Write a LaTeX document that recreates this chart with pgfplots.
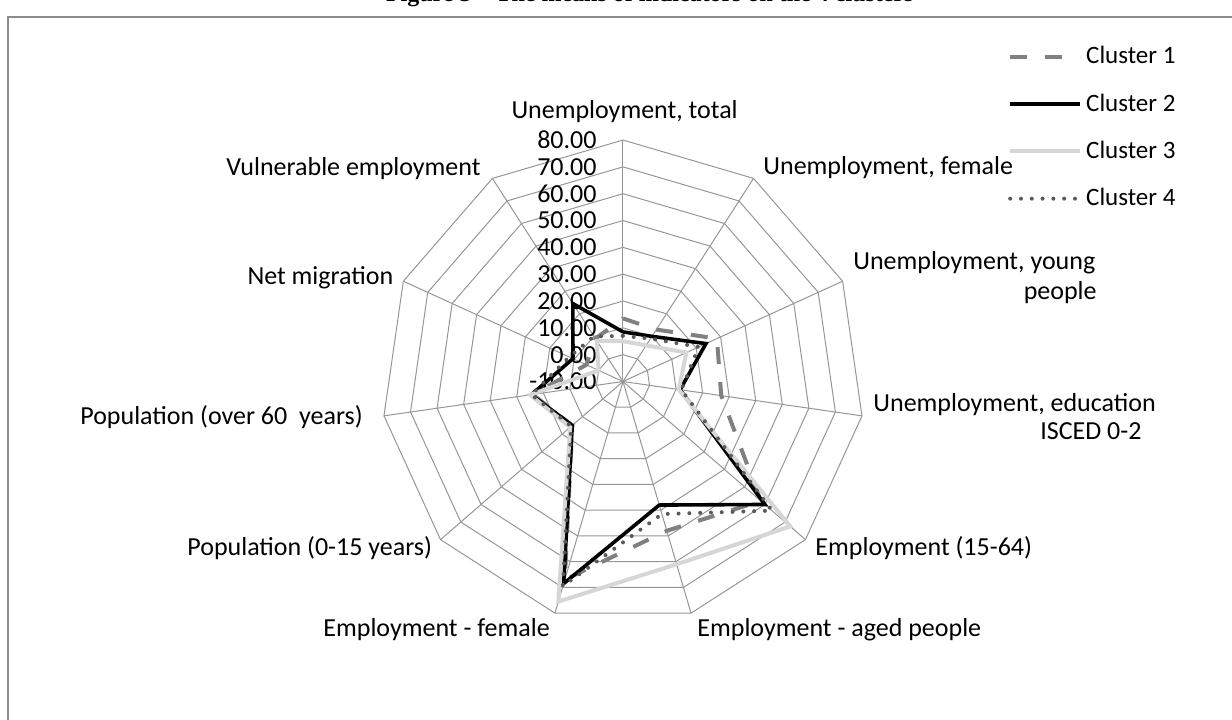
\documentclass[border=0pt]{standalone}
\usepackage{pgfplots}
\pgfplotsset{compat=1.18}
\usepackage{pgfplotstable}
\usepackage{fontspec}
\setmainfont{Carlito}
\newfontfamily\titlefont{Liberation Serif}

\definecolor{gridc}{RGB}{150,150,150}
\definecolor{cone}{RGB}{128,128,128}
\definecolor{cthree}{RGB}{214,214,214}
\definecolor{cfour}{RGB}{89,89,89}
\definecolor{framec}{RGB}{140,140,140}

% spoke k = 0..10 clockwise from the top, row 11 closes the polygon
\pgfplotstableread{
k  c1   c2   c3   c4
0  13.5 8.5  5.0  7.0
1  13.0 10.0 6.0  9.0
2  28.5 24.0 16.0 21.0
3  27.0 11.5 11.0 12.0
4  58.0 60.0 72.5 63.5
5  48.0 38.0 61.0 41.5
6  67.0 68.5 75.5 69.5
7  15.0 15.0 16.0 15.5
8  24.0 24.5 25.0 24.5
9  5.0  10.5 0.0  12.0
10 9.0  24.5 8.0  10.0
11 13.5 8.5  5.0  7.0
}\clusters

\begin{document}
\begin{tikzpicture}[font=\fontsize{13}{15.6}\selectfont]
\begin{axis}[
    at={(0,0)}, anchor=south west, name=ax,
    width=616pt, height=359.5pt, scale only axis,
    xmin=-232.2, xmax=227.0, ymin=-125.8, ymax=142.2,
    hide axis, clip=false,
    legend cell align=left,
    legend image code/.code={\draw[#1] (0pt,0pt) -- (35pt,0pt);},
    legend style={at={(0.818,0.936)}, anchor=north west, draw=none, fill=none,
        inner sep=0pt, row sep=13.5pt, font=\fontsize{12.5}{15}\selectfont,
        nodes={inner sep=0pt, inner xsep=2pt}},
]
% polygon rings (values 0..80 -> radius 10..90) and spokes
\pgfplotsinvokeforeach{10,20,...,90}{
  \addplot[gridc, line width=0.5pt, data cs=polar, forget plot]
    table[x expr={90-\thisrow{k}*360/11}, y expr=#1] {\clusters};
}
\pgfplotsinvokeforeach{0,...,10}{
  \addplot[gridc, line width=0.5pt, data cs=polar, forget plot]
    table[x expr={90-#1*360/11}, y=r, row sep=\\] {r\\0\\90\\};
}

% radial tick labels
\node[anchor=east, inner sep=0pt] at (axis cs:-9.7,90) {80.00};
\node[anchor=east, inner sep=0pt] at (axis cs:-9.7,80) {70.00};
\node[anchor=east, inner sep=0pt] at (axis cs:-9.7,70) {60.00};
\node[anchor=east, inner sep=0pt] at (axis cs:-9.7,60) {50.00};
\node[anchor=east, inner sep=0pt] at (axis cs:-9.7,50) {40.00};
\node[anchor=east, inner sep=0pt] at (axis cs:-9.7,40) {30.00};
\node[anchor=east, inner sep=0pt] at (axis cs:-9.7,30) {20.00};
\node[anchor=east, inner sep=0pt] at (axis cs:-9.7,20) {10.00};
\node[anchor=east, inner sep=0pt] at (axis cs:-9.7,10) {0.00};
\node[anchor=east, inner sep=0pt] at (axis cs:-9.7,0) {-10.00};

% category labels
\node[anchor=base west, inner sep=0pt] at (axis cs:-41.7,98.2) {Unemployment, total};
\node[anchor=base west, inner sep=0pt] at (axis cs:52.2,77.0) {Unemployment, female};
\node[anchor=base west, inner sep=0pt] at (axis cs:85.7,41.6) {Unemployment, young};
\node[anchor=base east, inner sep=0pt] at (axis cs:176.7,30.4) {people};
\node[anchor=base west, inner sep=0pt] at (axis cs:93.2,-11.0) {Unemployment, education};
\node[anchor=base west, inner sep=0pt] at (axis cs:155.4,-21.8) {ISCED 0-2};
\node[anchor=base west, inner sep=0pt] at (axis cs:71.6,-65.0) {Employment (15-64)};
\node[anchor=base west, inner sep=0pt] at (axis cs:27.6,-94.9) {Employment - aged people};
\node[anchor=base west, inner sep=0pt] at (axis cs:-111.8,-94.9) {Employment - female};
\node[anchor=base west, inner sep=0pt] at (axis cs:-162.5,-65.0) {Population (0-15 years)};
\node[anchor=base west, inner sep=0pt] at (axis cs:-202.4,-16.2) {Population (over 60\ \ years)};
\node[anchor=base west, inner sep=0pt] at (axis cs:-140.1,36.0) {Net migration};
\node[anchor=base west, inner sep=0pt] at (axis cs:-148.0,76.6) {Vulnerable employment};

% series
\addplot[cone, line width=2pt, dash pattern=on 8.5pt off 9pt, data cs=polar]
  table[x expr={90-\thisrow{k}*360/11}, y expr={\thisrow{c1}+10}] {\clusters};
\addlegendentry{Cluster 1}
\addplot[black, line width=1.8pt, data cs=polar]
  table[x expr={90-\thisrow{k}*360/11}, y expr={\thisrow{c2}+10}] {\clusters};
\addlegendentry{Cluster 2}
\addplot[cthree, line width=2pt, data cs=polar]
  table[x expr={90-\thisrow{k}*360/11}, y expr={\thisrow{c3}+10}] {\clusters};
\addlegendentry{Cluster 3}
\addplot[cfour, line width=2pt, line cap=round, dash pattern=on 0pt off 5.4pt, data cs=polar]
  table[x expr={90-\thisrow{k}*360/11}, y expr={\thisrow{c4}+10}] {\clusters};
\addlegendentry{Cluster 4}

% frame and cut title
\draw[framec, line width=1pt] (axis cs:-229.2,-130) -- (axis cs:-229.2,135.9) -- (axis cs:230,135.9);
\node[anchor=base, inner sep=0pt, font=\titlefont\bfseries\fontsize{12}{14}\selectfont]
  at (axis cs:10,141.8) {Figure 5 – The means of indicators on the 4 clusters};
\end{axis}
\pgfresetboundingbox
\path[use as bounding box] (ax.south west) rectangle (ax.north east);
\end{tikzpicture}
\end{document}
